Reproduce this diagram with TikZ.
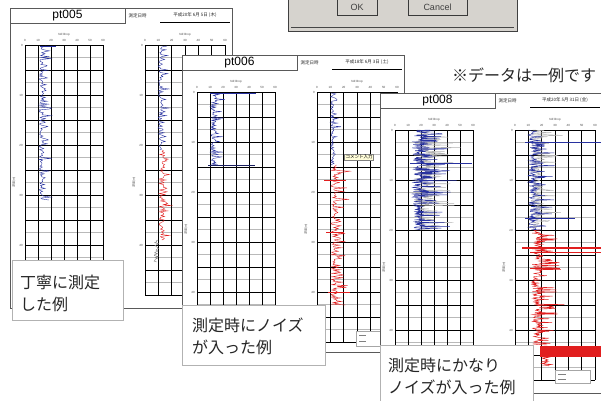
\documentclass[tikz,border=0pt]{standalone}
\usepackage{fontspec}
\setmainfont{Liberation Sans}
\newfontfamily\jpfont{Noto Sans CJK JP}
\usepackage{tikz}
\usetikzlibrary{calc}
\definecolor{traceblue}{RGB}{40,50,160}
\definecolor{tracered}{RGB}{225,30,30}
\definecolor{dialoggray}{RGB}{214,211,206}
\tikzset{
 sheetline/.style={draw=gray!70!black, line width=0.5pt},
 chartmajor/.style={black, line width=0.7pt},
 chartminor/.style={gray!55, line width=0.4pt},
 tinylabel/.style={font=\fontsize{3}{3}\selectfont, text=gray!60!black, inner sep=0.5pt},
 datetext/.style={font=\jpfont\fontsize{4.5}{5}\selectfont, text=gray!30!black, inner sep=0.5pt},
 labelbox/.style={fill=white, draw=gray!60, line width=0.6pt},
 labeltext/.style={font=\jpfont\fontsize{16}{22}\selectfont, align=left, anchor=west, inner sep=0pt, text=black!85},
 dialogbutton/.style={fill=dialoggray, draw=gray!45!black, line width=0.6pt, font=\fontsize{9}{9}\selectfont, text=black!75},
}
% one chart: name, x, y, width, height
\newcommand{\ndgrid}[5]{%
 \node[tinylabel] (#1head) at ({#2+#4/2},{#3-10}) {Nd'/drop};
 \foreach \yy in {12.5,37.5,...,#5} \draw[chartminor] (#2,{#3+\yy}) -- ++(#4,0);
 \foreach \yy in {0,25,...,#5} \draw[chartmajor] (#2,{#3+\yy}) -- ++(#4,0);
 \foreach \i in {0,...,6}{
   \pgfmathsetmacro\lw{\i==1 ? 1 : 0.45}
   \pgfmathtruncatemacro\v{\i*10}
   \draw[black, line width=\lw pt] ({#2+\i*#4/6},#3) -- ++(0,#5);
   \node[tinylabel] (#1x\i) at ({#2+\i*#4/6},{#3-4.5}) {\v};
 }
 \foreach \yy in {0,50,...,200}{
   \pgfmathtruncatemacro\d{\yy/5}
   \node[tinylabel, anchor=east] (#1y\yy) at ({#2-1.5},{#3+\yy}) {\d};
 }
 \node[tinylabel, rotate=90] (#1axis) at ({#2-11},{#3+0.55*#5}) {\jpfont 深度(m)};
}
% one sheet: name, x, y, title, date, height
\newcommand{\ndsheet}[6]{%
 \begin{scope}[shift={(#2,#3)}]
  \draw[sheetline, fill=white] (0,0) rectangle (222,#6);
  \draw[sheetline] (0,0) rectangle (115,15);
  \node[font=\fontsize{12}{12}\selectfont] (#1) at (57.5,7.5) {#4};
  \node[datetext, anchor=west] (#1when) at (118,7.5) {測定日時};
  \node[datetext] (#1date) at (185,7) {#5};
  \draw[line width=0.5pt] (150,14) -- (220,14);
  \ndgrid{#1l}{15}{37}{78}{250}
  \ndgrid{#1r}{135}{37}{80}{250}
 \end{scope}}
% noisy log: colour, x, from y, to y, noise, spikes, samples
\newcommand{\ndtrace}[7]{%
 \draw[#1, line width=0.4pt] plot[domain=#3:#4, samples=#7] ({#2+#5*rand+#6*pow(rnd,6)}, \x);}

\begin{document}
\begin{tikzpicture} [x=1pt, y=-1pt]
\useasboundingbox (0,0) rectangle (601,400);
\pgfmathsetseed{12}
% pt005
\ndsheet{pt5}{10}{8}{pt005}{平成20年 6月 5日 (木)}{300}
\ndtrace{traceblue}{41}{46}{200}{1.8}{10}{160}
\draw[traceblue, line width=0.7pt] (40,46) -- (56,46);
\ndtrace{traceblue}{160}{46}{150}{2}{8}{110}
\ndtrace{tracered}{162}{150}{240}{3}{8}{100}
\ndtrace{gray}{156}{240}{262}{2}{3}{25}
\draw[labelbox] (12,260) rectangle (123,320);
\node[labeltext] (care) at (20,293.5) {丁寧に測定\\した例};
% pt006
\ndsheet{pt6}{182}{55}{pt006}{平成18年 6月 3日 (土)}{297}
\ndtrace{traceblue}{213}{93}{165}{2.5}{10}{90}
\draw[traceblue, line width=1pt] (210,93) -- (256,93);
\draw[traceblue!60!black, line width=1pt] (208,165) -- (255,165);
\ndtrace{traceblue}{332}{93}{165}{1.8}{8}{80}
\ndtrace{tracered}{334}{165}{305}{3}{14}{160}
\draw[tracered, line width=0.6pt] (324,180) -- (346,180) (326,232) -- (344,232) (328,292) -- (350,292);
\node[fill=yellow!15, draw=gray, inner sep=1pt, font=\jpfont\fontsize{4.5}{5}\selectfont] (pt6note) at (359,157) {コメント入力};
\draw[fill=white, draw=gray!70] (356,331) rectangle (385,346);
\draw[gray] (359,335) -- (366,335) (359,341) -- (366,341);
\draw[labelbox] (182,305) rectangle (325,365);
\node[labeltext] (noise) at (192,336.5) {測定時にノイズ\\が入った例};
% pt008
\ndsheet{pt8}{380}{93}{pt008}{平成20年 5月 31日 (金)}{300}
\ndtrace{gray!60}{421}{130}{230}{7}{35}{200}
\ndtrace{traceblue}{418}{130}{230}{6}{35}{220}
\draw[traceblue, line width=0.8pt] (410,163) -- (472,163);
\ndtrace{gray!60}{535}{130}{230}{4}{25}{150}
\ndtrace{traceblue}{532}{130}{230}{4}{25}{180}
\draw[traceblue, line width=0.7pt] (525,142) -- (601,142) (525,218) -- (575,218);
\ndtrace{tracered}{536}{230}{345}{4}{25}{220}
\draw[tracered, line width=1.5pt] (522,248) -- (601,248);
\draw[tracered, line width=0.6pt] (530,252) -- (601,252) (530,268) -- (560,268);
\fill[tracered] (540,346) rectangle (601,357);
\ndtrace{tracered}{545}{357}{366}{4}{10}{20}
\draw[fill=white, draw=gray!70] (555,370) rectangle (590,383);
\draw[gray] (558,374) -- (566,374) (558,379) -- (566,379);
\draw[labelbox] (380,345) rectangle (533,402);
\node[labeltext] (heavy) at (388,376) {測定時にかなり\\ノイズが入った例};
% dialog
\draw[fill=dialoggray, draw=gray!50!black, line width=0.8pt] (288,-2) rectangle (517,31);
\draw[gray!55!black] (291,27.5) -- (514,27.5);
\node[dialogbutton, minimum width=40, minimum height=17] (okbtn) at (357,7) {OK};
\node[dialogbutton, minimum width=59, minimum height=17] (cancelbtn) at (437.5,7) {Cancel};
\node[font=\jpfont\fontsize{16}{16}\selectfont, text=black!85] (example) at (524,75) {※データは一例です};
\end{tikzpicture}
\end{document}
